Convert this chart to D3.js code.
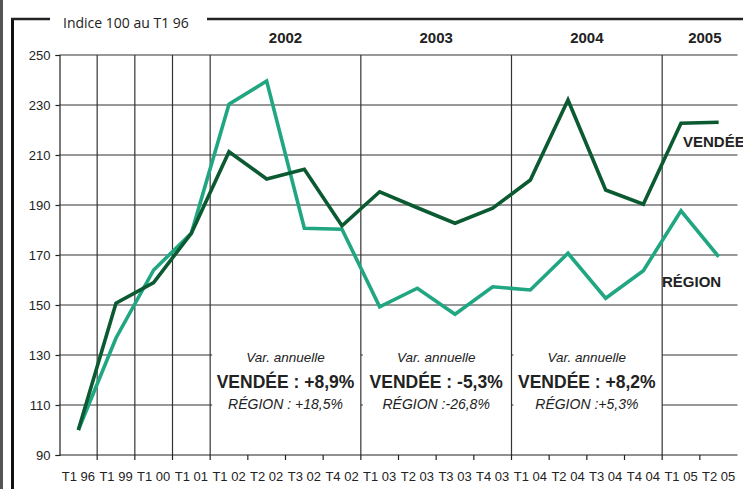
<!DOCTYPE html>
<html>
<head>
<meta charset="utf-8">
<script src="https://cdnjs.cloudflare.com/ajax/libs/d3/7.8.5/d3.min.js"></script>
<style>
    html, body { margin: 0; padding: 0; background: #fff; }
    svg { display: block; }
    text { font-family: 'Liberation Sans', Arial, sans-serif; fill: #222; }
</style>
</head>
<body>
<div id="chart"></div>
<script>
// quarters on the x axis
const quarters = ['T1 96', 'T1 99', 'T1 00', 'T1 01', 'T1 02', 'T2 02', 'T3 02', 'T4 02',
    'T1 03', 'T2 03', 'T3 03', 'T4 03', 'T1 04', 'T2 04', 'T3 04', 'T4 04', 'T1 05', 'T2 05'];
// index 100 au T1 96
const vendee = [100, 150.7, 159, 178.7, 211.3, 200.4, 204.3, 181.7,
    195.3, 188.9, 182.7, 188.7, 200, 232, 196, 190.3, 222.7, 223.1];
const region = [100, 136.8, 164, 178.7, 230.3, 239.6, 180.7, 180.3,
    149.3, 156.7, 146.3, 157.3, 156, 170.7, 152.7, 163.7, 187.7, 169.3];
const yTicks = [90, 110, 130, 150, 170, 190, 210, 230, 250];
// year headers: [label, first quarter, last quarter]
const years = [['2002', 'T1 02', 'T4 02'], ['2003', 'T1 03', 'T4 03'], ['2004', 'T1 04', 'T4 04'], ['2005', 'T1 05', 'T2 05']];
// boundaries with a full vertical line (quarter that starts after it)
const dividers = ['T1 99', 'T1 00', 'T1 01', 'T1 02', 'T1 03', 'T1 04', 'T1 05'];
// annual variation boxes
const annualYears = ['2002', '2003', '2004'];
const annualVendee = ['VENDÉE : +8,9%', 'VENDÉE : -5,3%', 'VENDÉE : +8,2%'];
const annualRegion = ['RÉGION : +18,5%', 'RÉGION :-26,8%', 'RÉGION :+5,3%'];

const width = 743, height = 489;
const margin = { top: 55, right: 5.5, bottom: 34, left: 59.5 };
const colors = { vendee: '#0b5a32', region: '#21a682', grid: '#333' };

const svg = d3.select('#chart').append('svg')
    .attr('width', width)
    .attr('height', height);

// scales
const x = d3.scaleBand().domain(quarters).range([margin.left, width - margin.right]);
const bw = x.bandwidth();
const xc = d => x(d) + bw / 2;
const y = d3.scaleLinear().domain([90, 250]).range([height - margin.bottom, margin.top]);

// page frame
svg.append('rect').attr('x', 0).attr('y', 0).attr('width', 3).attr('height', height).attr('fill', '#555');
svg.append('line').attr('x1', 12.5).attr('x2', 12.5).attr('y1', 18).attr('y2', height)
    .attr('stroke', '#111').attr('stroke-width', 3);
svg.append('line').attr('x1', 11).attr('x2', 50).attr('y1', 19).attr('y2', 19)
    .attr('stroke', '#222').attr('stroke-width', 2.5);
svg.append('line').attr('x1', 207).attr('x2', width).attr('y1', 19).attr('y2', 19)
    .attr('stroke', '#222').attr('stroke-width', 2.5);
svg.append('text')
    .attr('x', 63).attr('y', 27.5)
    .style('font-family', "'Open Sans', 'Noto Sans', sans-serif")
    .style('font-size', '14px')
    .text('Indice 100 au T1 96');

// horizontal grid
svg.append('g').selectAll('line')
    .data(yTicks.slice(1))
    .join('line')
    .attr('x1', margin.left).attr('x2', width - margin.right)
    .attr('y1', d => y(d)).attr('y2', d => y(d))
    .attr('stroke', colors.grid).attr('stroke-width', 1.2);

// white boxes behind the annual variation text
const boxes = svg.append('g');
annualYears.forEach((yr, i) => {
    const yy = years.find(e => e[0] === yr);
    const x0 = x(yy[1]) + 2;
    const x1 = x(yy[2]) + bw;
    boxes.append('rect')
        .attr('x', x0).attr('width', x1 - x0)
        .attr('y', y(141)).attr('height', y(91) - y(141))
        .attr('fill', '#fff');
});

// vertical dividers
svg.append('g').selectAll('line')
    .data(dividers)
    .join('line')
    .attr('x1', d => x(d)).attr('x2', d => x(d))
    .attr('y1', y(250)).attr('y2', y(90))
    .attr('stroke', colors.grid).attr('stroke-width', 1.2);

// axes
const yAxis = svg.append('g')
    .attr('transform', `translate(${margin.left},0)`)
    .call(d3.axisLeft(y).tickValues(yTicks).tickSize(4).tickPadding(5));
yAxis.select('.domain').attr('stroke', '#222').attr('stroke-width', 1.2);
yAxis.selectAll('line').attr('stroke', '#222').attr('stroke-width', 1.2);
yAxis.selectAll('text').style('font-size', '13px').attr('fill', '#222');

const xAxis = svg.append('g')
    .attr('transform', `translate(0,${y(90)})`)
    .call(d3.axisBottom(x).tickSize(0).tickPadding(17));
xAxis.select('.domain').remove();
xAxis.selectAll('text').style('font-size', '13px').attr('fill', '#222');
// boundary ticks below the axis
svg.append('line')
    .attr('x1', margin.left).attr('x2', width - margin.right)
    .attr('y1', y(90)).attr('y2', y(90))
    .attr('stroke', '#222').attr('stroke-width', 1.2);
svg.append('g').selectAll('line')
    .data(quarters.slice(1))
    .join('line')
    .attr('x1', d => x(d)).attr('x2', d => x(d))
    .attr('y1', y(90)).attr('y2', y(90) + 5)
    .attr('stroke', '#222').attr('stroke-width', 1.2);

// year headers
svg.append('g').selectAll('text')
    .data(years)
    .join('text')
    .attr('x', d => (xc(d[1]) + xc(d[2])) / 2 + (d[0] === '2005' ? 5 : 0))
    .attr('y', 43)
    .attr('text-anchor', 'middle')
    .style('font-size', '15px')
    .style('font-weight', 'bold')
    .text(d => d[0]);

// series
const line = d3.line()
    .x((d, i) => xc(quarters[i]))
    .y(d => y(d));

svg.append('path')
    .datum(region)
    .attr('d', line)
    .attr('fill', 'none')
    .attr('stroke', colors.region)
    .attr('stroke-width', 3.6)
    .attr('stroke-linejoin', 'miter');

svg.append('path')
    .datum(vendee)
    .attr('d', line)
    .attr('fill', 'none')
    .attr('stroke', colors.vendee)
    .attr('stroke-width', 3.6)
    .attr('stroke-linejoin', 'miter');

// series labels (VENDÉE runs off the right edge, as in the source)
svg.append('text')
    .attr('x', 683).attr('y', 147)
    .style('font-size', '15px').style('font-weight', 'bold')
    .text('VENDÉE');
svg.append('text')
    .attr('x', 662).attr('y', 287)
    .style('font-size', '15px').style('font-weight', 'bold')
    .text('RÉGION');

// annual variation text
const ann = svg.append('g');
annualYears.forEach((yr, i) => {
    const yy = years.find(e => e[0] === yr);
    const cx = (xc(yy[1]) + xc(yy[2])) / 2;
    ann.append('text')
        .attr('x', cx).attr('y', 361.5)
        .attr('text-anchor', 'middle')
        .style('font-size', '13.5px').style('font-style', 'italic')
        .text('Var. annuelle');
    ann.append('text')
        .attr('x', cx).attr('y', 388)
        .attr('text-anchor', 'middle')
        .style('font-size', '17.5px').style('font-weight', 'bold')
        .text(annualVendee[i]);
    ann.append('text')
        .attr('x', cx).attr('y', 409)
        .attr('text-anchor', 'middle')
        .style('font-size', '14px').style('font-style', 'italic')
        .text(annualRegion[i]);
});
</script>
</body>
</html>
